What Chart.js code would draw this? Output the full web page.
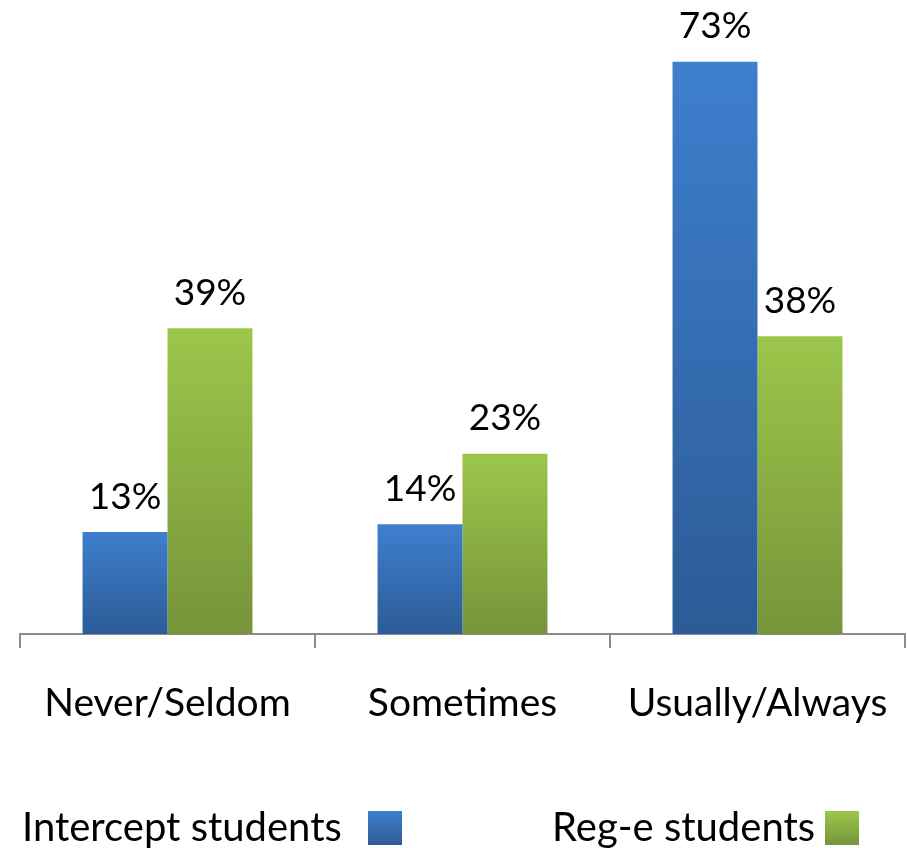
<!DOCTYPE html>
<html>
<head>
<meta charset="utf-8">
<script src="https://cdn.jsdelivr.net/npm/chart.js@4.4.1/dist/chart.umd.min.js"></script>
<style>
  html, body { margin: 0; padding: 0; background: #fff; }
  #wrap { width: 907px; height: 848px; }
</style>
</head>
<body>
<div id="wrap"><canvas id="chart"></canvas></div>
<script>
const categories = ['Never/Seldom', 'Sometimes', 'Usually/Always'];
const seriesNames = ['Intercept students', 'Reg-e students'];
const interceptValues = [13, 14, 73];
const regeValues = [39, 23, 38];

const FONT = 'Lato, "Open Sans", sans-serif';

// top and bottom colour of each series' gradient
const blueStops = ['#3e7fce', '#2c5b96'];
const greenStops = ['#9cc64a', '#76943a'];

function barGradient(stops) {
    return function(context) {
        const chart = context.chart;
        if (context.type !== 'data' || !chart.chartArea) return stops[0];
        const y = chart.scales.y;
        const top = y.getPixelForValue(context.raw);
        const bottom = y.getPixelForValue(0);
        const g = chart.ctx.createLinearGradient(0, top, 0, bottom);
        g.addColorStop(0, stops[0]);
        g.addColorStop(1, stops[1]);
        return g;
    };
}

const valueLabels = {
    id: 'valueLabels',
    afterDatasetsDraw(chart) {
        const ctx = chart.ctx;
        ctx.save();
        ctx.font = `37px ${FONT}`;
        ctx.fillStyle = '#000';
        ctx.textAlign = 'center';
        ctx.textBaseline = 'bottom';
        chart.data.datasets.forEach((ds, i) => {
            chart.getDatasetMeta(i).data.forEach((bar, j) => {
                ctx.fillText(ds.data[j] + '%', bar.x, bar.y - 17);
            });
        });
        ctx.restore();
    }
};

const bottomLegend = {
    id: 'bottomLegend',
    afterDraw(chart) {
        const ctx = chart.ctx;
        const items = [
            {x: 22, box: 368, stops: blueStops},
            {x: 552, box: 825, stops: greenStops}
        ];
        ctx.save();
        ctx.font = `40px ${FONT}`;
        ctx.textBaseline = 'middle';
        items.forEach((it, i) => {
            ctx.fillStyle = '#000';
            ctx.fillText(seriesNames[i], it.x, 828);
            const g = ctx.createLinearGradient(0, 811, 0, 845);
            g.addColorStop(0, it.stops[0]);
            g.addColorStop(1, it.stops[1]);
            ctx.fillStyle = g;
            ctx.fillRect(it.box, 811, 34, 34);
        });
        ctx.restore();
    }
};

new Chart(document.getElementById('chart'), {
    type: 'bar',
    data: {
        labels: categories,
        datasets: [
            {label: seriesNames[0], data: interceptValues, backgroundColor: barGradient(blueStops)},
            {label: seriesNames[1], data: regeValues, backgroundColor: barGradient(greenStops)}
        ]
    },
    options: {
        responsive: true,
        maintainAspectRatio: false,
        animation: false,
        categoryPercentage: 0.576,
        barPercentage: 1,
        layout: {padding: {top: 7, left: 20, right: 2, bottom: 0}},
        plugins: {legend: {display: false}, tooltip: {enabled: false}},
        scales: {
            y: {display: false, min: 0, max: 80},
            x: {
                grid: {offset: true, drawOnChartArea: false, drawTicks: true, tickLength: 14, color: '#8c8c8c', lineWidth: 2},
                border: {color: '#8c8c8c', width: 2},
                ticks: {color: '#000', font: {family: FONT, size: 39}, padding: 32},
                afterFit(scale) {
                    scale.height = 214;
                    scale.paddingLeft = 0;
                    scale.paddingRight = 0;
                }
            }
        }
    },
    plugins: [valueLabels, bottomLegend]
});
</script>
</body>
</html>
